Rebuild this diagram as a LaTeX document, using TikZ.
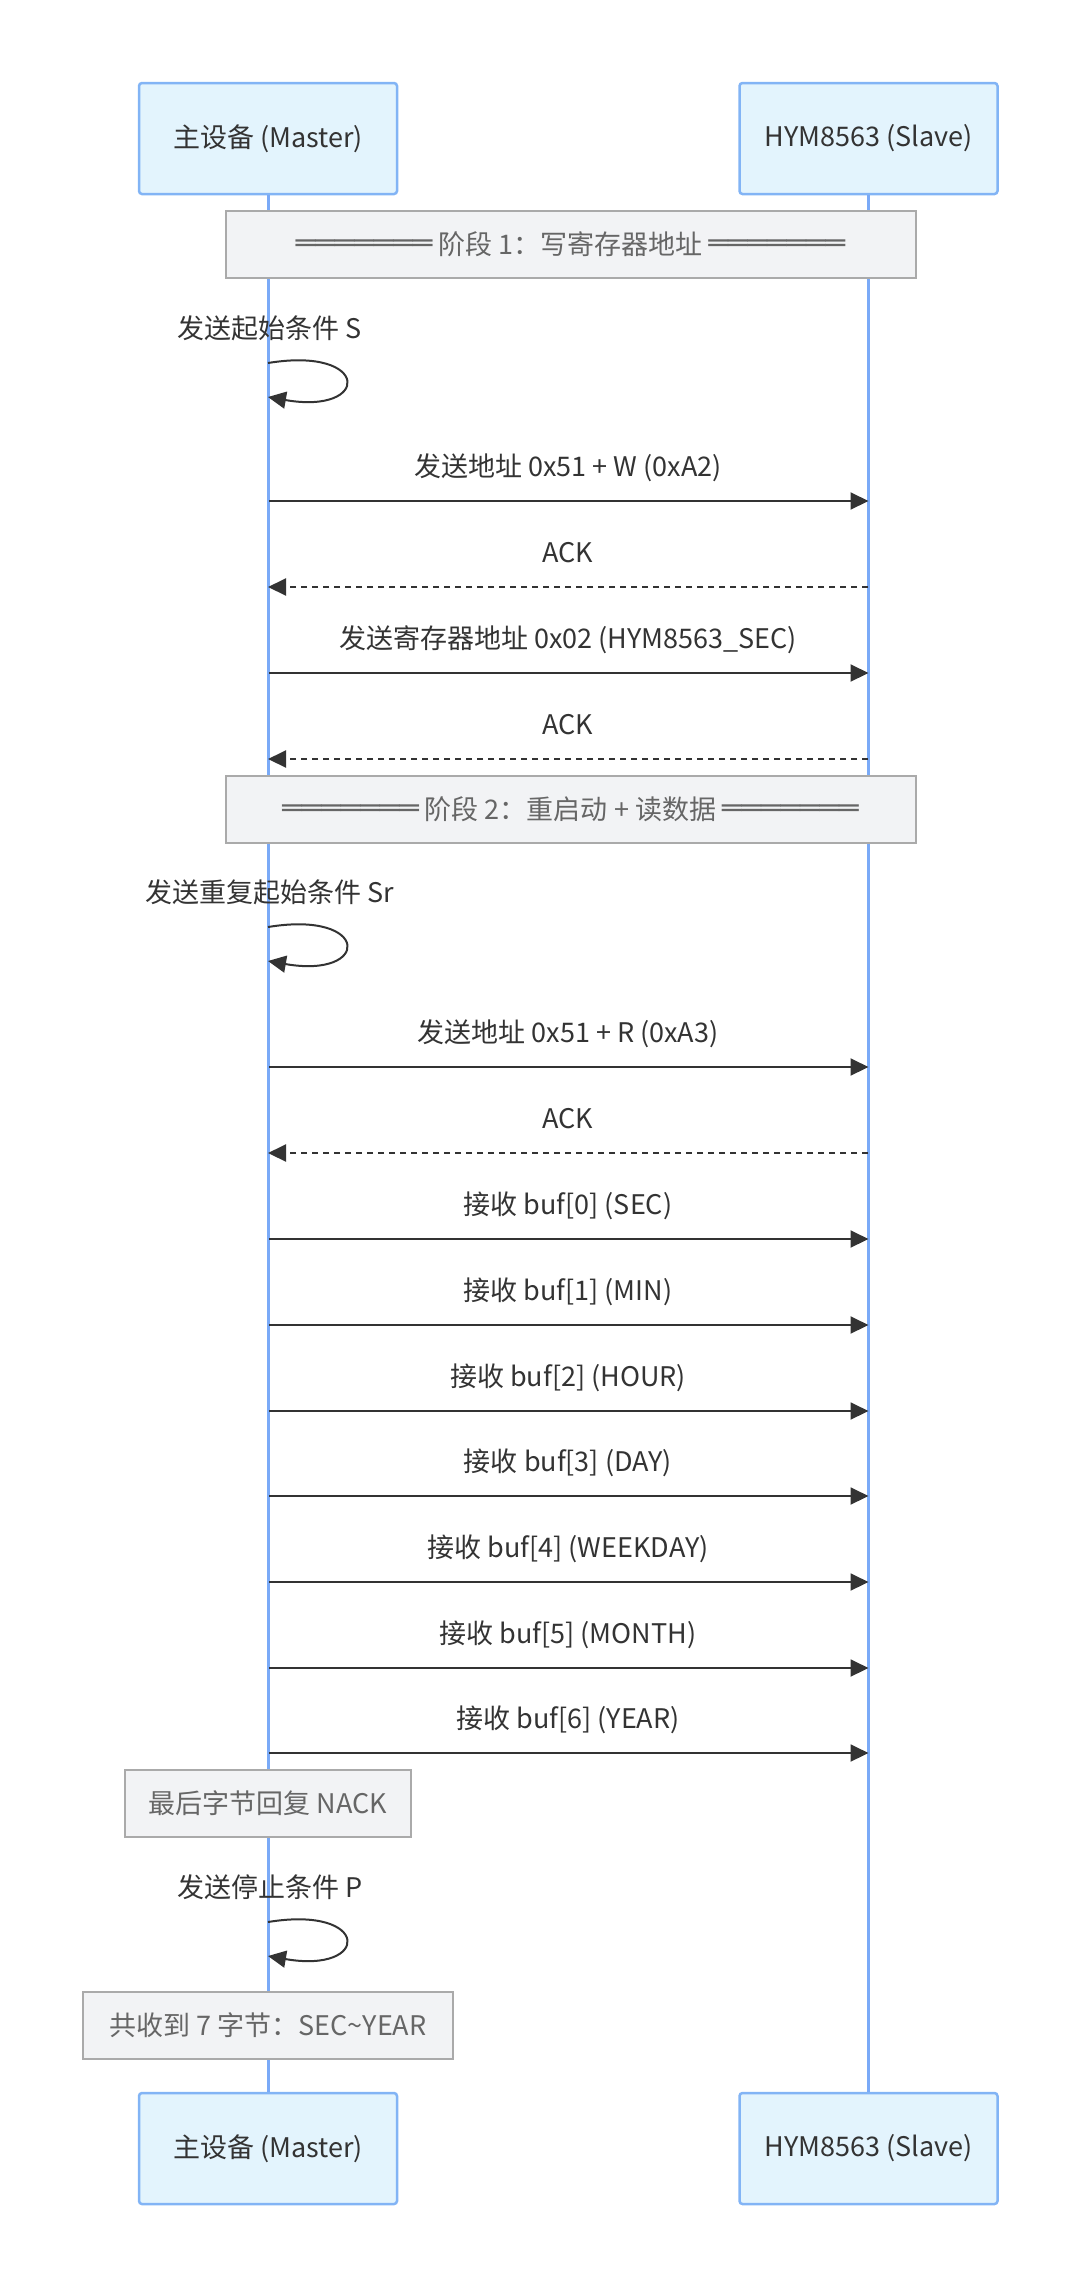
\documentclass[tikz,border=0pt]{standalone}
\usepackage{fontspec}
\setmainfont{Noto Sans CJK SC}
\newfontfamily\boxfont{DejaVu Sans}
\usetikzlibrary{arrows.meta}
\definecolor{actfill}{HTML}{E3F4FD}
\definecolor{actdraw}{HTML}{82B4F5}
\definecolor{lifec}{HTML}{7AAAF7}
\definecolor{notefill}{HTML}{F2F3F5}
\definecolor{notedraw}{HTML}{AAAAAA}
\definecolor{notetext}{HTML}{666666}
\definecolor{msgc}{HTML}{333333}
\newcommand{\dblline}{\raisebox{2pt}{\scalebox{1.2}[1]{\boxfont ═══════}}}
\begin{document}
\begin{tikzpicture}[x=1pt,y=-1pt,
  font=\fontsize{27}{32}\selectfont,
  actor/.style={draw=actdraw, fill=actfill, line width=2.5pt, rounded corners=3pt,
    minimum width=258pt, minimum height=111pt, text=msgc, inner sep=0pt},
  life/.style={draw=lifec, line width=3pt},
  notebox/.style={draw=notedraw, fill=notefill, line width=2pt, text=notetext,
    inner sep=0pt, minimum height=67pt},
  msg/.style={draw=msgc, line width=2pt, -{Triangle[length=18pt,width=17pt]}},
  reply/.style={msg, dash pattern=on 6pt off 5pt},
  lbl/.style={text=msgc, inner sep=0pt, anchor=base},
]
\useasboundingbox (0,0) rectangle (1080,2287);
% actors
\node[actor] (mt) at (268,138.5) {主设备 (Master)};
\node[actor] (st) at (868.5,138.5) {HYM8563 (Slave)};
\node[actor] (mb) at (268,2148.5) {主设备 (Master)};
\node[actor] (sb) at (868.5,2148.5) {HYM8563 (Slave)};
% lifelines
\draw[life] (mt.south) -- (mb.north);
\draw[life] (st.south) -- (sb.north);
% phase notes
\node[notebox, minimum width=690pt] (n1) at (570.5,244.5) {\dblline\ 阶段 1：写寄存器地址 \dblline};
\node[notebox, minimum width=690pt] (n2) at (570.5,809) {\dblline\ 阶段 2：重启动 + 读数据 \dblline};
\node[notebox, minimum width=286pt] (n3) at (268,1803.5) {最后字节回复 NACK};
\node[notebox, minimum width=370pt] (n4) at (268,2025) {共收到 7 字节：SEC\textasciitilde YEAR};
% self loop 1
\coordinate (q1s) at (268,363);
\coordinate (q1e) at (268,397);
\node[lbl] (ql1) at (270,338) {发送起始条件 S};
\draw[msg] (q1s) .. controls +(103,-17) and +(103,18) .. (q1e);
% messages phase 1
\coordinate (m1) at (269,501);  \coordinate (s1) at (868.5,501);
\node[lbl] (l1) at (568,476) {发送地址 0x51 + W (0xA2)};
\draw[msg] (m1) -- (s1);
\coordinate (m2) at (268,587);  \coordinate (s2) at (868,587);
\node[lbl] (l2) at (568,562) {ACK};
\draw[reply] (s2) -- (m2);
\coordinate (m3) at (269,673);  \coordinate (s3) at (868.5,673);
\node[lbl] (l3) at (568,648) {发送寄存器地址 0x02 (HYM8563\_SEC)};
\draw[msg] (m3) -- (s3);
\coordinate (m4) at (268,759);  \coordinate (s4) at (868,759);
\node[lbl] (l4) at (568,734) {ACK};
\draw[reply] (s4) -- (m4);
% self loop 2
\coordinate (q2s) at (268,927);
\coordinate (q2e) at (268,961);
\node[lbl] (ql2) at (270,902) {发送重复起始条件 Sr};
\draw[msg] (q2s) .. controls +(103,-17) and +(103,18) .. (q2e);
% messages phase 2
\coordinate (m5) at (269,1067);  \coordinate (s5) at (868.5,1067);
\node[lbl] (l5) at (568,1042) {发送地址 0x51 + R (0xA3)};
\draw[msg] (m5) -- (s5);
\coordinate (m6) at (268,1153);  \coordinate (s6) at (868,1153);
\node[lbl] (l6) at (568,1128) {ACK};
\draw[reply] (s6) -- (m6);
\foreach \i/\t/\yy in {0/SEC/1239,1/MIN/1325,2/HOUR/1411,3/DAY/1496,4/WEEKDAY/1582,5/MONTH/1668,6/YEAR/1753}{
  \coordinate (bm\i) at (269,\yy);
  \coordinate (bs\i) at (868.5,\yy);
  \node[lbl] (bl\i) at (568,\yy-25) {接收 buf[\i] (\t)};
  \draw[msg] (bm\i) -- (bs\i);
}
% self loop 3
\coordinate (q3s) at (268,1922);
\coordinate (q3e) at (268,1956);
\node[lbl] (ql3) at (270,1897) {发送停止条件 P};
\draw[msg] (q3s) .. controls +(103,-17) and +(103,18) .. (q3e);
\end{tikzpicture}
\end{document}
